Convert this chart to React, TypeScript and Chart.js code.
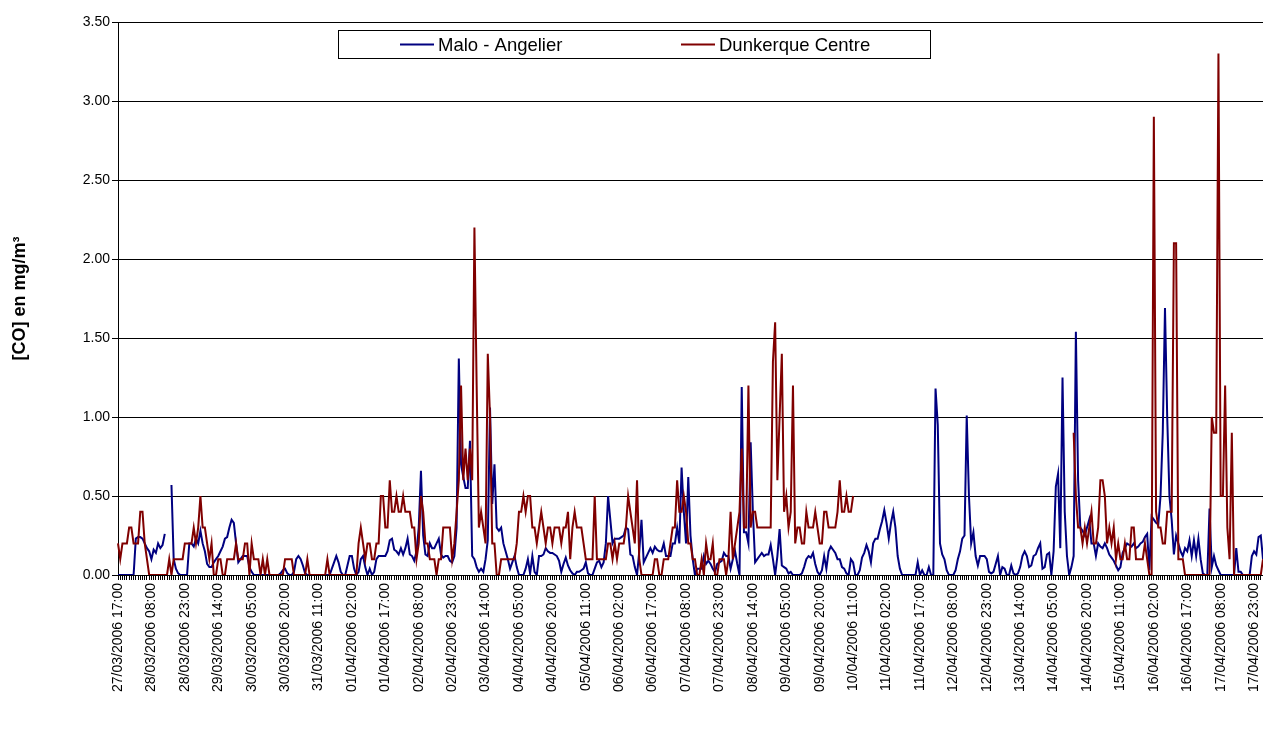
import React, { useEffect, useRef } from "react";
import { Chart, registerables } from "chart.js";

Chart.register(...registerables);

// ---------- data ----------
const SERIES_NAMES = ["Malo - Angelier", "Dunkerque Centre"];
const SERIES_COLORS = ["#000080", "#800000"];
const Y_TITLE = "[CO] en mg/m³";
const Y_MIN = 0;
const Y_MAX = 3.5;
const Y_STEP = 0.5;
const START_UTC = Date.UTC(2006, 2, 27, 17, 0); // 27/03/2006 17:00, hourly values
const HOUR_COUNT = 515;
const LABEL_STEP = 15; // a tick label every 15 hours

const pad2 = (n: number) => String(n).padStart(2, "0");
const CATEGORIES: string[] = [];
for (let i = 0; i < HOUR_COUNT; i++) {
  const d = new Date(START_UTC + i * 3600000);
  CATEGORIES.push(
    `${pad2(d.getUTCDate())}/${pad2(d.getUTCMonth() + 1)}/${d.getUTCFullYear()} ${pad2(d.getUTCHours())}:00`
  );
}

// Malo - Angelier (hourly, mg/m3)
const MALO: (number | null)[] = [
  0, 0, 0, 0, 0, 0, 0, 0, 0.23, 0.24,
  0.24, 0.23, 0.2, 0.17, 0.15, 0.1, 0.16, 0.14, 0.2, 0.17,
  0.19, 0.26, null, null, 0.57, 0.1, 0.04, 0.01, 0, 0,
  0, 0, 0.2, 0.2, 0.18, 0.23, 0.2, 0.28, 0.2, 0.15,
  0.07, 0.05, 0.05, 0.08, 0.1, 0.12, 0.15, 0.18, 0.23, 0.24,
  0.3, 0.35, 0.33, 0.2, 0.08, 0.1, 0.12, 0.12, 0.12, 0.05,
  0.02, 0, 0, 0, 0, 0, 0, 0, 0, 0,
  0, 0, 0, 0.01, 0.03, 0.04, 0.01, 0, 0, 0.02,
  0.1, 0.12, 0.1, 0.06, 0.01, 0, 0, 0, 0, 0,
  0, 0, 0, 0, 0, 0, 0.04, 0.08, 0.12, 0.08,
  0.02, 0, 0, 0.06, 0.12, 0.12, 0.04, 0, 0.02, 0.1,
  0.12, 0.05, 0, 0.04, 0, 0.02, 0.1, 0.12, 0.12, 0.12,
  0.12, 0.15, 0.22, 0.23, 0.16, 0.15, 0.13, 0.17, 0.13, 0.17,
  0.23, 0.13, 0.12, 0.09, 0.15, 0.3, 0.66, 0.25, 0.13, 0.12,
  0.2, 0.17, 0.17, 0.2, 0.23, 0.13, 0.11, 0.12, 0.12, 0.09,
  0.08, 0.12, 0.3, 1.37, 0.7, 0.62, 0.55, 0.55, 0.85, 0.12,
  0.1, 0.05, 0.02, 0.04, 0.02, 0.1, 0.22, 1.06, 0.45, 0.7,
  0.3, 0.28, 0.3, 0.2, 0.15, 0.1, 0.04, 0.08, 0.12, 0.05,
  0, 0, 0, 0.04, 0.1, 0.01, 0.12, 0.02, 0, 0.12,
  0.12, 0.13, 0.17, 0.15, 0.14, 0.14, 0.13, 0.12, 0.09, 0.02,
  0.07, 0.11, 0.06, 0.03, 0.01, 0, 0.02, 0.02, 0.03, 0.04,
  0.08, 0.01, 0, 0, 0.04, 0.08, 0.09, 0.05, 0.08, 0.2,
  0.5, 0.35, 0.2, 0.23, 0.23, 0.23, 0.24, 0.25, 0.3, 0.29,
  0.13, 0.12, 0.05, 0, 0.15, 0.35, 0.08, 0.11, 0.14, 0.17,
  0.14, 0.18, 0.16, 0.15, 0.15, 0.2, 0.12, 0.12, 0.12, 0.2,
  0.2, 0.3, 0.2, 0.68, 0.4, 0.2, 0.62, 0.25, 0.1, 0,
  0.04, 0.04, 0.04, 0.12, 0.07, 0.09, 0.07, 0.04, 0.02, 0.07,
  0.08, 0.09, 0.14, 0.12, 0.12, 0.04, 0.1, 0.15, 0.07, 0,
  1.19, 0.27, 0.27, 0.2, 0.84, 0.4, 0.08, 0.1, 0.12, 0.14,
  0.12, 0.13, 0.13, 0.19, 0.1, 0, 0.12, 0.29, 0.06, 0.05,
  0.04, 0.01, 0.02, 0, 0, 0, 0, 0.01, 0.05, 0.1,
  0.12, 0.11, 0.14, 0.07, 0.02, 0, 0.03, 0.12, 0.04, 0.15,
  0.18, 0.16, 0.14, 0.1, 0.1, 0.05, 0.04, 0.01, 0, 0.1,
  0.08, 0, 0, 0.03, 0.11, 0.14, 0.19, 0.15, 0.08, 0.2,
  0.23, 0.23, 0.29, 0.34, 0.41, 0.33, 0.23, 0.33, 0.4, 0.3,
  0.12, 0.04, 0, 0, 0, 0, 0, 0, 0, 0.08,
  0, 0.03, 0, 0, 0.05, 0, 0, 1.18, 0.95, 0.2,
  0.13, 0.1, 0.03, 0, 0, 0, 0.03, 0.1, 0.15, 0.23,
  0.25, 1.01, 0.5, 0.2, 0.27, 0.12, 0.06, 0.12, 0.12, 0.12,
  0.1, 0.02, 0.01, 0.02, 0.07, 0.12, 0, 0.05, 0.04, 0,
  0, 0.06, 0.01, 0, 0.01, 0.05, 0.12, 0.15, 0.12, 0.05,
  0.06, 0.12, 0.13, 0.17, 0.2, 0.04, 0.05, 0.13, 0.14, 0,
  0.15, 0.56, 0.64, 0.17, 1.25, 0.4, 0.12, 0, 0.05, 0.12,
  1.54, 0.6, 0.3, 0.28, 0.25, 0.3, 0.35, 0.2, 0.2, 0.12,
  0.2, 0.18, 0.17, 0.2, 0.17, 0.13, 0.11, 0.09, 0.06, 0.03,
  0.05, 0.14, 0.17, 0.2, 0.19, 0.18, 0.2, 0.17, 0.18, 0.2,
  0.21, 0.24, 0.26, 0.03, 0.37, 0.35, 0.33, 0.32, 0.5, 0.9,
  1.69, 1.0, 0.5, 0.35, 0.13, 0.25, 0.2, 0.15, 0.12, 0.17,
  0.15, 0.22, 0.12, 0.22, 0.12, 0.23, 0.1, 0.01, 0, 0,
  0.42, 0.05, 0.12, 0.06, 0.03, 0, 0, 0, 0, 0,
  0, 0, 0.17, 0.02, 0.02, 0, 0, 0, 0, 0.12,
  0.15, 0.13, 0.24, 0.25, 0.1,
];

// Dunkerque Centre (hourly, mg/m3) - null = no measurement
const DUNKERQUE: (number | null)[] = [
  0.2, 0.1, 0.2, 0.2, 0.2, 0.3, 0.3, 0.2, 0.2, 0.2,
  0.4, 0.4, 0.2, 0.1, 0, 0, 0, 0, 0, 0,
  0, 0, 0, 0.1, 0, 0.1, 0.1, 0.1, 0.1, 0.1,
  0.2, 0.2, 0.2, 0.2, 0.3, 0.2, 0.3, 0.5, 0.3, 0.3,
  0.2, 0.1, 0.2, 0, 0, 0.1, 0.1, 0, 0, 0.1,
  0.1, 0.1, 0.1, 0.2, 0.1, 0.1, 0.1, 0.2, 0.2, 0,
  0.2, 0.1, 0.1, 0.1, 0, 0.1, 0, 0.1, 0, 0,
  0, 0, 0, 0, 0, 0.1, 0.1, 0.1, 0.1, 0,
  0, 0, 0, 0, 0, 0.1, 0, 0, 0, 0,
  0, 0, 0, 0, 0.1, 0, 0, 0, 0, 0,
  0, 0, 0, 0, 0, 0, 0, 0, 0.2, 0.3,
  0.2, 0.1, 0.2, 0.2, 0.1, 0.1, 0.2, 0.2, 0.5, 0.5,
  0.3, 0.3, 0.6, 0.4, 0.4, 0.5, 0.4, 0.4, 0.5, 0.4,
  0.4, 0.4, 0.3, 0.3, 0.1, 0.2, 0.5, 0.4, 0.2, 0.2,
  0.1, 0.1, 0.1, 0, 0.1, 0.1, 0.3, 0.3, 0.3, 0.3,
  0.1, 0.2, 0.4, 0.6, 1.2, 0.6, 0.8, 0.6, 0.8, 0.6,
  2.2, 1.2, 0.3, 0.4, 0.3, 0.2, 1.4, 1.0, 0.2, 0.2,
  0, 0, 0.1, 0.1, 0.1, 0.1, 0.1, 0.1, 0.1, 0.2,
  0.4, 0.4, 0.5, 0.4, 0.5, 0.5, 0.3, 0.3, 0.2, 0.3,
  0.4, 0.3, 0.2, 0.3, 0.3, 0.2, 0.3, 0.3, 0.3, 0.2,
  0.3, 0.3, 0.4, 0.1, 0.3, 0.4, 0.3, 0.3, 0.3, 0.2,
  0.1, 0.1, 0.1, 0.1, 0.5, 0.1, 0.1, 0.1, 0.1, 0.1,
  0.2, 0.2, 0.1, 0.2, 0.1, 0.2, 0.2, 0.2, 0.3, 0.5,
  0.4, 0.3, 0.2, 0.6, 0.1, 0, 0, 0, 0, 0,
  0, 0.1, 0.1, 0, 0, 0.1, 0.1, 0.1, 0.2, 0.3,
  0.3, 0.6, 0.4, 0.4, 0.5, 0.4, 0.2, 0.2, 0.1, 0.1,
  0, 0, 0.1, 0, 0.2, 0.1, 0.1, 0.2, 0, 0,
  0.1, 0.1, 0.1, 0, 0.1, 0.4, 0.1, 0.2, 0.3, 0.4,
  0.8, 0.3, 0.3, 1.2, 0.3, 0.4, 0.4, 0.3, 0.3, 0.3,
  0.3, 0.3, 0.3, 0.3, 1.35, 1.6, 0.6, 1.0, 1.4, 0.4,
  0.5, 0.3, 0.4, 1.2, 0.2, 0.3, 0.3, 0.2, 0.2, 0.4,
  0.3, 0.3, 0.3, 0.4, 0.3, 0.2, 0.2, 0.4, 0.4, 0.3,
  0.3, 0.3, 0.3, 0.4, 0.6, 0.4, 0.4, 0.5, 0.4, 0.4,
  0.5, null, null, null, null, null, null, null, null, null,
  null, null, null, null, null, null, null, null, null, null,
  null, null, null, null, null, null, null, null, null, null,
  null, null, null, null, null, null, null, null, null, null,
  null, null, null, null, null, null, null, null, null, null,
  null, null, null, null, null, null, null, null, null, null,
  null, null, null, null, null, null, null, null, null, null,
  null, null, null, null, null, null, null, null, null, null,
  null, null, null, null, null, null, null, null, null, null,
  null, null, null, null, null, null, null, null, null, 0.9,
  0.5, 0.3, 0.3, 0.2, 0.3, 0.2, 0.3, 0.4, 0.2, 0.2,
  0.3, 0.6, 0.6, 0.5, 0.2, 0.3, 0.2, 0.3, 0.1, 0.2,
  0.1, 0.1, 0.2, 0.1, 0.1, 0.3, 0.3, 0.1, 0.1, 0.1,
  0.1, 0.2, 0.1, 0, 0, 2.9, 0.4, 0.3, 0.3, 0.2,
  0.2, 0.4, 0.4, 0.4, 2.1, 2.1, 0.1, 0.1, 0.1, 0,
  0, 0, 0, 0, 0, 0, 0, 0, 0, 0,
  0, 1.0, 0.9, 0.9, 3.3, 0.5, 0.5, 1.2, 0.3, 0.1,
  0.9, 0, 0, 0, 0, 0, 0, 0, 0, 0,
  0, 0, 0, 0, 0.1,
];

const FONT = "'Liberation Sans', Arial, Helvetica, sans-serif";

// Boxed legend drawn inside the plot area (like the original spreadsheet chart)
const boxLegend = {
  id: "boxLegend",
  afterDraw(chart: any) {
    const { ctx } = chart;
    const box = { x: 338, y: 30, w: 592, h: 28 };
    const items = [
      { lineX: 400, textX: 438 },
      { lineX: 681, textX: 719 },
    ];
    ctx.save();
    ctx.fillStyle = "#ffffff";
    ctx.fillRect(box.x, box.y, box.w, box.h);
    ctx.strokeStyle = "#000000";
    ctx.lineWidth = 1;
    ctx.strokeRect(box.x + 0.5, box.y + 0.5, box.w, box.h);
    const cy = box.y + box.h / 2 + 0.5;
    ctx.font = `18.5px ${FONT}`;
    ctx.textBaseline = "middle";
    ctx.textAlign = "left";
    chart.data.datasets.forEach((ds: any, i: number) => {
      const it = items[i];
      ctx.strokeStyle = ds.borderColor;
      ctx.lineWidth = 2;
      ctx.beginPath();
      ctx.moveTo(it.lineX, cy);
      ctx.lineTo(it.lineX + 34, cy);
      ctx.stroke();
      ctx.fillStyle = "#000000";
      ctx.fillText(ds.label, it.textX, cy + 1);
    });
    ctx.restore();
  },
};

export default function App() {
  const canvasRef = useRef<HTMLCanvasElement | null>(null);

  useEffect(() => {
    if (!canvasRef.current) return;
    Chart.defaults.font.family = FONT;
    const chart = new Chart(canvasRef.current, {
      type: "line",
      data: {
        labels: CATEGORIES,
        datasets: [
          {
            label: SERIES_NAMES[0],
            data: MALO,
            borderColor: SERIES_COLORS[0],
            backgroundColor: SERIES_COLORS[0],
            borderWidth: 2,
            pointRadius: 0,
            tension: 0,
            spanGaps: false,
            order: 2,
          },
          {
            label: SERIES_NAMES[1],
            data: DUNKERQUE,
            borderColor: SERIES_COLORS[1],
            backgroundColor: SERIES_COLORS[1],
            borderWidth: 2,
            pointRadius: 0,
            tension: 0,
            spanGaps: false,
            order: 1,
          },
        ],
      },
      options: {
        animation: false,
        responsive: true,
        maintainAspectRatio: false,
        layout: { padding: { top: 22, right: 0, bottom: 0, left: 0 } },
        plugins: {
          legend: { display: false },
          tooltip: { enabled: false },
        },
        scales: {
          x: {
            type: "category",
            grid: {
              display: true,
              drawOnChartArea: false,
              drawTicks: true,
              tickLength: 5,
              color: "#000000",
              lineWidth: 1,
            },
            border: { display: true, color: "#000000", width: 1 },
            ticks: {
              autoSkip: false,
              minRotation: 90,
              maxRotation: 90,
              padding: 3,
              color: "#000000",
              font: { size: 14 },
              callback: (_v: any, i: number) => (i % LABEL_STEP === 0 ? CATEGORIES[i] : ""),
            },
            afterFit: (s: any) => {
              s.height = 158;
              s.paddingRight = 0;
              s.paddingLeft = 0;
            },
          },
          y: {
            min: Y_MIN,
            max: Y_MAX,
            grid: { color: "#000000", lineWidth: 1, drawTicks: true, tickLength: 6 },
            border: { display: true, color: "#000000", width: 1 },
            ticks: {
              stepSize: Y_STEP,
              padding: 2,
              color: "#000000",
              font: { size: 14 },
              callback: (v: any) => Number(v).toFixed(2),
            },
            title: {
              display: true,
              text: Y_TITLE,
              color: "#000000",
              font: { size: 18, weight: "bold" },
              padding: { top: 9, bottom: 0 },
            },
            afterFit: (s: any) => {
              s.width = 118;
            },
          },
        },
      },
      plugins: [boxLegend],
    } as any);
    return () => chart.destroy();
  }, []);

  return (
    <div
      style={{
        position: "fixed",
        left: 0,
        top: 0,
        width: 1263,
        height: 733,
        background: "#ffffff",
      }}
    >
      <canvas ref={canvasRef} />
    </div>
  );
}
